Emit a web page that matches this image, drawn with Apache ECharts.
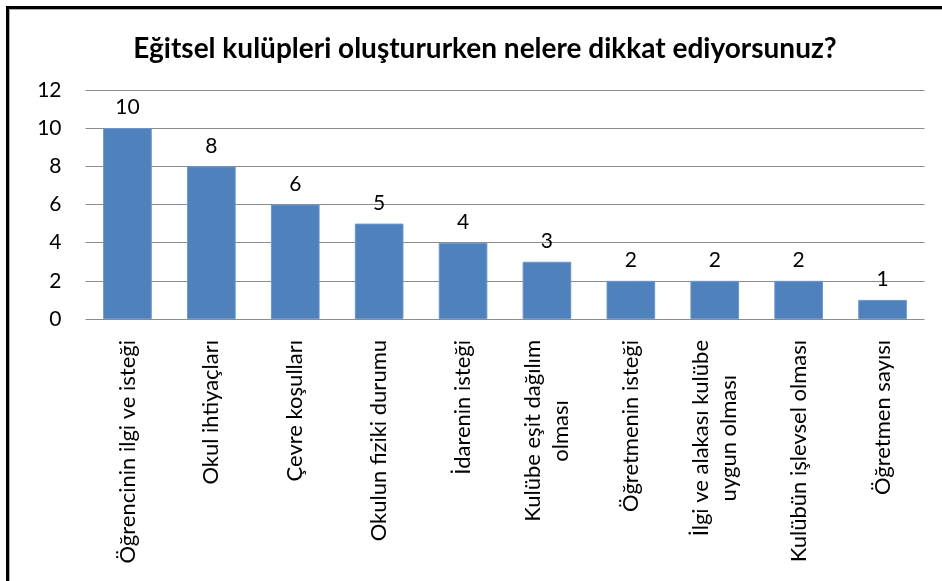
<!DOCTYPE html>
<html>
<head>
<meta charset="utf-8">
<script src="https://cdn.jsdelivr.net/npm/echarts@6/dist/echarts.min.js"></script>
<style>
  html, body { margin: 0; padding: 0; background: #fff; }
  #chart { width: 942px; height: 581px; }
</style>
</head>
<body>
<div id="chart"></div>
<script>
const title = 'Eğitsel kulüpleri oluştururken nelere dikkat ediyorsunuz?'
const categories = [
  'Öğrencinin ilgi ve isteği',
  'Okul ihtiyaçları',
  'Çevre koşulları',
  'Okulun fiziki durumu',
  'İdarenin isteği',
  'Kulübe eşit dağılım\nolması',
  'Öğretmenin isteği',
  'İlgi ve alakası kulübe\nuygun olması',
  'Kulübün işlevsel olması',
  'Öğretmen sayısı'
]
const values = [10, 8, 6, 5, 4, 3, 2, 2, 2, 1]
const yTicks = { min: 0, max: 12, interval: 2 }

const font = 'Lato, "Open Sans", sans-serif'

let chart = echarts.init(document.getElementById('chart'))

chart.setOption({
  backgroundColor: '#fff',
  animation: false,
  title: {
    text: title,
    left: 480,
    top: 30,
    textAlign: 'center',
    textStyle: { fontFamily: font, fontSize: 28, fontWeight: 'bold', color: '#000' }
  },
  grid: { left: 85.5, right: 17.5, top: 90, bottom: 262 },
  xAxis: {
    type: 'category',
    data: categories,
    axisLine: { show: false },
    axisTick: { show: false },
    axisLabel: {
      interval: 0,
      rotate: 90,
      margin: 21,
      color: '#000',
      fontFamily: font,
      fontSize: 22,
      lineHeight: 28,
      formatter: function (v) {
        return v.split('\n').map(s => '{c|' + s + '}').join('\n')
      },
      rich: {
        c: { align: 'center', fontFamily: font, fontSize: 22, lineHeight: 28, color: '#000' }
      }
    }
  },
  yAxis: {
    type: 'value',
    min: yTicks.min,
    max: yTicks.max,
    interval: yTicks.interval,
    axisLine: { show: false },
    axisTick: { show: false },
    axisLabel: { margin: 24, color: '#000', fontFamily: font, fontSize: 21 },
    splitLine: { lineStyle: { color: '#8c8c8c', width: 1 } }
  },
  series: [{
    type: 'bar',
    data: values,
    barCategoryGap: '42%',
    itemStyle: { color: '#4f81bd', borderColor: '#6b97cf', borderWidth: 1 },
    label: {
      show: true,
      position: 'top',
      distance: 10,
      color: '#000',
      fontFamily: font,
      fontSize: 21
    }
  }],
  graphic: [
    { type: 'rect', shape: { x: 6, y: 6, width: 936, height: 3 }, style: { fill: '#000' } },
    { type: 'rect', shape: { x: 9, y: 9, width: 933, height: 1 }, style: { fill: '#b0b0b0' } },
    { type: 'rect', shape: { x: 6, y: 6, width: 3, height: 575 }, style: { fill: '#000' } },
    { type: 'rect', shape: { x: 9, y: 9, width: 1, height: 572 }, style: { fill: '#b0b0b0' } }
  ]
})

window.onresize = function () {
  chart.resize()
}
</script>
</body>
</html>
